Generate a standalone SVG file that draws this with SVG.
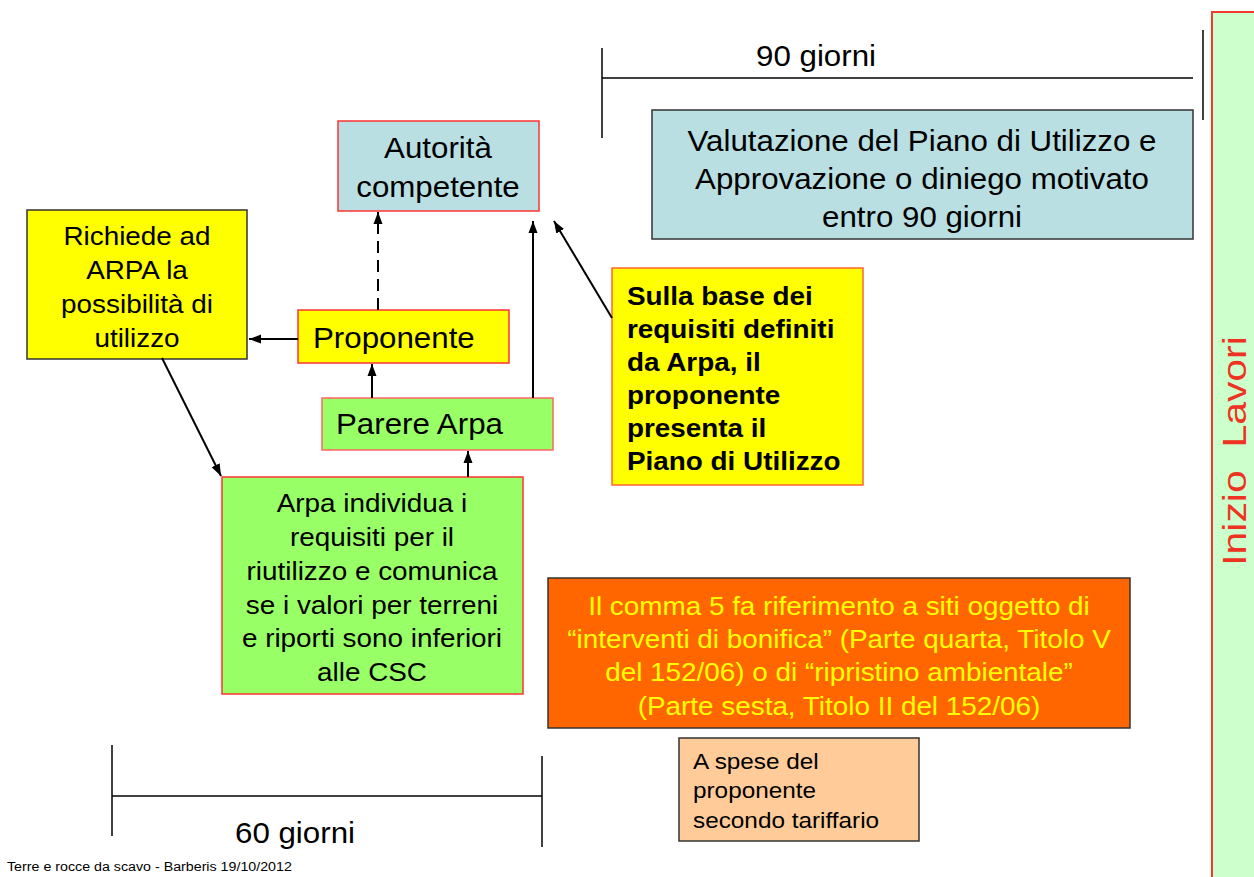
<svg xmlns="http://www.w3.org/2000/svg" width="1254" height="877" viewBox="0 0 1254 877">
<style>
text { font-family: "Liberation Sans", Arial, sans-serif; fill: #000; }
.c { text-anchor: middle; transform-box: fill-box; transform-origin: center; transform: scaleX(1.072); }
.l { text-anchor: start; transform-box: fill-box; transform-origin: left center; transform: scaleX(1.072); }
.f18 { font-size: 29.2px; }
.f16 { font-size: 26px; }
.f14 { font-size: 22.7px; }
.b { font-weight: bold; }
.box-red { stroke: #FF3333; stroke-width: 1.5; }
.box-dark { stroke: #333333; stroke-width: 1.5; }
.conn { stroke: #000; stroke-width: 2; fill: none; }
.tl { stroke: #000; stroke-width: 1.5; fill: none; }
</style>
<defs>
<marker id="ah" viewBox="0 0 12 10" refX="12" refY="5" markerWidth="12" markerHeight="10" markerUnits="userSpaceOnUse" orient="auto">
<path d="M0,0.5 L12,5 L0,9.5 z" fill="#000"/>
</marker>
</defs>
<rect width="1254" height="877" fill="#FFFFFF"/>

<g id="inizio-lavori">
<rect x="1212" y="12" width="60" height="880" fill="#CCFFCC" stroke="#F03A2A" stroke-width="2"/>
<text transform="translate(1246,451) rotate(-90) scale(1.24,1)" text-anchor="middle" style="font-size:33px;fill:#EE3322;white-space:pre">Inizio  Lavori</text>
</g>

<g id="timeline-90">
<line class="tl" x1="602" y1="48" x2="602" y2="138"/>
<line class="tl" x1="602" y1="78" x2="1193" y2="78"/>
<line class="tl" x1="1203" y1="30" x2="1203" y2="120"/>
<text class="c f18" x="816" y="66">90 giorni</text>
</g>

<g id="timeline-60">
<line class="tl" x1="112" y1="745" x2="112" y2="836"/>
<line class="tl" x1="112" y1="796" x2="542" y2="796"/>
<line class="tl" x1="542" y1="756" x2="542" y2="847"/>
<text class="c f18" x="295" y="843">60 giorni</text>
</g>

<g id="valutazione">
<rect class="box-dark" x="652" y="110" width="541" height="129" fill="#B9DFE2"/>
<text class="c f18" x="922" y="151">Valutazione del Piano di Utilizzo e</text>
<text class="c f18" x="922" y="189">Approvazione o diniego motivato</text>
<text class="c f18" x="922" y="227">entro 90 giorni</text>
</g>

<g id="autorita">
<rect class="box-red" x="338" y="121" width="201" height="90" fill="#B9DFE2"/>
<text class="c f18" x="438" y="158">Autorità</text>
<text class="c f18" x="438" y="197">competente</text>
</g>

<g id="richiede">
<rect class="box-dark" x="27" y="210" width="220" height="149" fill="#FFFF00"/>
<text class="c f16" x="137" y="245">Richiede ad</text>
<text class="c f16" x="137" y="279">ARPA la</text>
<text class="c f16" x="137" y="313">possibilità di</text>
<text class="c f16" x="137" y="347">utilizzo</text>
</g>

<g id="proponente">
<rect class="box-red" x="298" y="310" width="211" height="53" fill="#FFFF00"/>
<text class="l f18" x="313" y="348">Proponente</text>
</g>

<g id="parere-arpa">
<rect x="322" y="398" width="231" height="52" fill="#99FF66" stroke="#FF6666" stroke-width="1.5"/>
<text class="l f18" x="336" y="434">Parere Arpa</text>
</g>

<g id="sulla-base">
<rect x="612" y="268" width="251" height="217" fill="#FFFF00" stroke="#FF6633" stroke-width="1.5"/>
<text class="l f16 b" x="627" y="305">Sulla base dei</text>
<text class="l f16 b" x="627" y="338">requisiti definiti</text>
<text class="l f16 b" x="627" y="371">da Arpa, il</text>
<text class="l f16 b" x="627" y="404">proponente</text>
<text class="l f16 b" x="627" y="437">presenta il</text>
<text class="l f16 b" x="627" y="470">Piano di Utilizzo</text>
</g>

<g id="arpa-individua">
<rect class="box-red" x="222" y="477" width="301" height="217" fill="#99FF66"/>
<text class="c f16" x="372" y="512">Arpa individua i</text>
<text class="c f16" x="372" y="546">requisiti per il</text>
<text class="c f16" x="372" y="580">riutilizzo e comunica</text>
<text class="c f16" x="372" y="614">se i valori per terreni</text>
<text class="c f16" x="372" y="647">e riporti sono inferiori</text>
<text class="c f16" x="372" y="681">alle CSC</text>
</g>

<g id="comma5">
<rect class="box-dark" x="548" y="578" width="582" height="150" fill="#FF6600"/>
<text class="c f16" x="839" y="615" style="fill:#FFFF00">Il comma 5 fa riferimento a siti oggetto di</text>
<text class="c f16" x="839" y="648" style="fill:#FFFF00">“interventi di bonifica” (Parte quarta, Titolo V</text>
<text class="c f16" x="839" y="681" style="fill:#FFFF00">del 152/06) o di “ripristino ambientale”</text>
<text class="c f16" x="839" y="715" style="fill:#FFFF00">(Parte sesta, Titolo II del 152/06)</text>
</g>

<g id="a-spese">
<rect class="box-dark" x="679" y="738" width="240" height="103" fill="#FFCC99"/>
<text class="l f14" x="693" y="769">A spese del</text>
<text class="l f14" x="693" y="798">proponente</text>
<text class="l f14" x="693" y="828">secondo tariffario</text>
</g>

<g id="connectors">
<line class="conn" x1="378" y1="310" x2="378" y2="212" stroke-dasharray="12,7" marker-end="url(#ah)"/>
<line class="conn" x1="533" y1="398" x2="533" y2="221" marker-end="url(#ah)"/>
<line class="conn" x1="612" y1="318" x2="554" y2="221" marker-end="url(#ah)"/>
<line class="conn" x1="372" y1="398" x2="372" y2="364" marker-end="url(#ah)"/>
<line class="conn" x1="298" y1="339" x2="249" y2="339" marker-end="url(#ah)"/>
<line class="conn" x1="162" y1="358" x2="221" y2="476" marker-end="url(#ah)"/>
<line class="conn" x1="468" y1="477" x2="468" y2="451" marker-end="url(#ah)"/>
</g>

<text id="footer" class="l" x="7" y="871" style="font-size:13.3px">Terre e rocce da scavo - Barberis 19/10/2012</text>
</svg>
